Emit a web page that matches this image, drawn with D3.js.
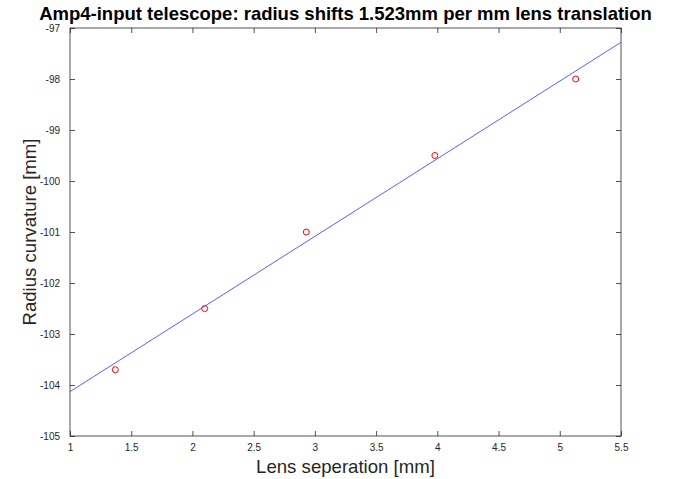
<!DOCTYPE html>
<html><head><meta charset="utf-8">
<script src="https://cdn.jsdelivr.net/npm/d3@7"></script>
<style>body{margin:0;background:#fff}text{font-family:"Liberation Sans",Arial,Helvetica,sans-serif}</style>
</head><body><svg id="c" width="680" height="479"></svg>
<script>
const measX = [1.37, 2.10, 2.93, 3.98, 5.13];
const measY = [-103.7, -102.5, -101.0, -99.5, -98.0];
const fitX = [1, 5.5];
const fitY = [-104.13, -97.28];
const xTicks = [1, 1.5, 2, 2.5, 3, 3.5, 4, 4.5, 5, 5.5];
const yTicks = [-105, -104, -103, -102, -101, -100, -99, -98, -97];
const title = "Amp4-input telescope: radius shifts 1.523mm per mm lens translation";
const xLabel = "Lens seperation [mm]";
const yLabel = "Radius curvature [mm]";

const svg = d3.select("#c");
const L = 70, R = 621, T = 28, B = 436;
const x = d3.scaleLinear().domain([1, 5.5]).range([L, R]);
const y = d3.scaleLinear().domain([-105, -97]).range([B, T]);
const axisCol = "#262626";
const tl = 5;
const fmt = d => String(d);

svg.append("rect").attr("x", L).attr("y", T).attr("width", R - L).attr("height", B - T)
  .attr("fill", "#fff").attr("stroke", axisCol).attr("stroke-width", 0.8);

const gx = svg.append("g").attr("transform", `translate(0,${B})`)
  .call(d3.axisBottom(x).tickValues(xTicks).tickSize(-tl).tickPadding(8).tickFormat(fmt));
const gxt = svg.append("g").attr("transform", `translate(0,${T})`)
  .call(d3.axisTop(x).tickValues(xTicks).tickSize(-tl).tickFormat(""));
const gy = svg.append("g").attr("transform", `translate(${L},0)`)
  .call(d3.axisLeft(y).tickValues(yTicks).tickSize(-tl).tickPadding(10).tickFormat(fmt));
const gyr = svg.append("g").attr("transform", `translate(${R},0)`)
  .call(d3.axisRight(y).tickValues(yTicks).tickSize(-tl).tickFormat(""));
[gx, gxt, gy, gyr].forEach(g => {
  g.select(".domain").remove();
  g.selectAll(".tick line").attr("stroke", axisCol).attr("stroke-width", 0.8);
  g.selectAll(".tick text").attr("fill", axisCol).style("font-size", "10px")
    .style("font-family", "'Liberation Sans',Arial,sans-serif");
});

svg.append("line")
  .attr("x1", x(fitX[0])).attr("y1", y(fitY[0]))
  .attr("x2", x(fitX[1])).attr("y2", y(fitY[1]))
  .attr("stroke", "#3333ff").attr("stroke-width", 0.8);

svg.selectAll("circle.p").data(measX.map((d, i) => [d, measY[i]])).enter()
  .append("circle").attr("class", "p")
  .attr("cx", d => x(d[0])).attr("cy", d => y(d[1])).attr("r", 3)
  .attr("fill", "none").attr("stroke", "#ff0000").attr("stroke-width", 1);

svg.append("text").attr("x", (L + R) / 2).attr("y", 20).attr("text-anchor", "middle")
  .style("font-weight", "bold").style("font-size", "18.5px").attr("fill", "#000").text(title);
svg.append("text").attr("x", (L + R) / 2).attr("y", 473).attr("text-anchor", "middle")
  .style("font-size", "18.6px").attr("fill", axisCol).text(xLabel);
svg.append("text").attr("transform", `translate(36,${(T + B) / 2}) rotate(-90)`).attr("text-anchor", "middle")
  .style("font-size", "18.6px").attr("fill", axisCol).text(yLabel);
</script></body></html>
